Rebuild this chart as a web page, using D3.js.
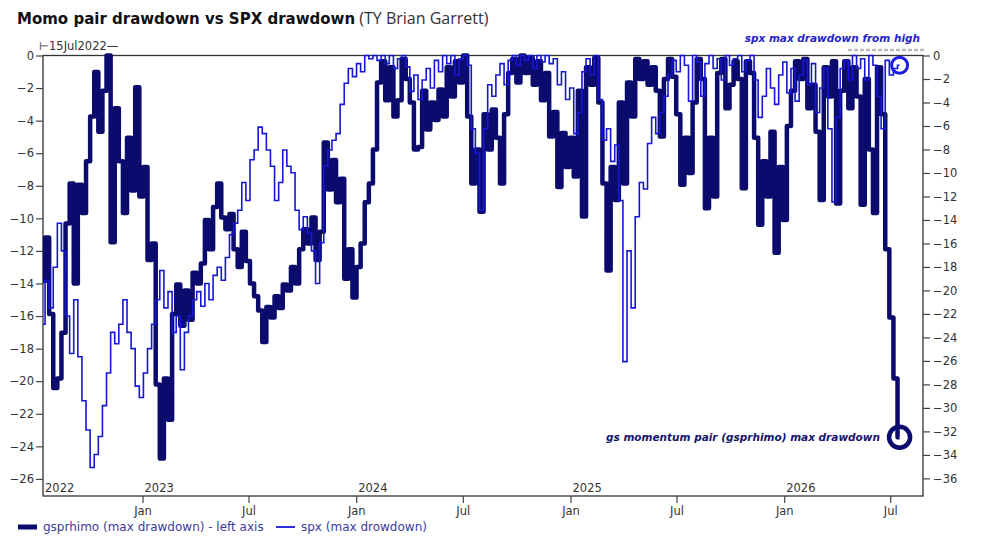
<!DOCTYPE html>
<html>
<head>
<meta charset="utf-8">
<script src="https://d3js.org/d3.v7.min.js"></script>
<style>
  body { margin: 0; background: #fff; }
  svg { display: block; }
</style>
</head>
<body>
<svg width="983" height="547"></svg>
<script>
// weekly readings starting 15 Jul 2022
var startDate = '2022-07-15';

// gsprhimo max drawdown (%), drawn on the right-hand scale
var gsValues = [
  -19.2, -15.5, -22, -28.3, -27.5, -23.6, -14.3, -10.9, -19.4, -11,
  -13.4, -9, -5.2, -1.4, -6.5, -3, 0, -15.9, -4.5, -9,
  -13.4, -7, -11.5, -2.7, -12, -9.5, -17.4, -16, -28, -34.3,
  -27.5, -31, -22, -19.5, -23, -20, -22.5, -18.5, -19.4, -17.7,
  -14, -16.5, -12.9, -10.9, -13.8, -14.8, -13.5, -16.5, -18, -15,
  -17.5, -19.4, -20.5, -21.7, -24.4, -21.4, -22.3, -20.5, -21.5, -19.5,
  -20, -18, -19.4, -16.5, -14.8, -16, -13.8, -17.4, -15, -7.4,
  -11.4, -8.9, -12.5, -10.5, -19, -16.5, -20.6, -18, -16, -12.5,
  -10.9, -8, -2.3, -0.5, -3.8, -1, -5.2, -3.8, -0.3, -2,
  -4, -8, -7.8, -3, -6.3, -4, -5.5, -2.9, -5.2, -1,
  -3.5, -0.5, -2.3, 0, -5.2, -10.9, -8, -13.3, -5, -8,
  -4.6, -7, -10.9, -5, -1.5, -0.3, -2.3, 0, -1.5, -0.2,
  -2.5, -0.5, -3.8, -1.5, -6.9, -4.8, -11.2, -6.6, -9.5, -7,
  -10.3, -3, -13.7, -1, -2.5, -0.2, -4, -10.9, -18.3, -9.5,
  -12.3, -4, -10.9, -2.3, -5.2, -0.3, -2, -0.5, -2.5, -1,
  -3, -6.9, -2, -0.3, -1.8, -5, -11, -7, -10, -4,
  -0.3, -2, -13, -7, -12, -1.5, -0.3, -4.5, -2.5, -0.5,
  -2, -11.3, -0.5, -1.5, -7, -14.4, -9, -12, -6.5, -16.8,
  -9.5, -14, -6, -3, -0.5, -2, -0.3, -4.5, -2.5, -6.5,
  -12.3, -1, -3.5, -0.5, -12.6, -3, -0.5, -4.5, -1, -3.5,
  -12.7, -2, -8, -13.4, -1, -5, -16.5, -22.3, -27.5, -32.5
];

// spx max drawdown (%), drawn on the left-hand scale
var spxValues = [
  -16.5, -13.8, -15.5, -13, -10.3, -12, -16, -18.3, -15, -18.5,
  -21.2, -23, -25.3, -24.5, -23.4, -21.5, -19.5, -17, -17.7, -16.5,
  -15, -17, -18, -20.3, -21, -19.5, -18, -16.5, -15, -13.2,
  -15.5, -14.5, -17, -16, -19.3, -17, -16, -15, -14.5, -15.4,
  -14, -15, -13.5, -13, -13.8, -12.4, -11, -10.3, -9.5, -7.8,
  -8.9, -6.4, -5.8, -4.4, -4.8, -5.8, -6.8, -8.9, -7.8, -5.8,
  -6.8, -7.2, -9.5, -10.7, -9.9, -10.9, -12, -14, -11.5, -6.8,
  -5.8, -5.2, -4.8, -3, -1.7, -0.8, -1.3, -0.5, -1, 0,
  -0.2, 0, -0.3, 0, -0.5, 0, -0.8, -0.2, 0, -0.7,
  -2.2, -1.2, -2.7, -1.5, -0.8, -2, -0.3, -1, 0, -0.5,
  0, -1.2, -0.2, 0, -0.6, -4.5, -6, -9.5, -4.5, -1.8,
  -2.5, -1.2, -0.5, -1.8, -0.3, 0, -0.6, 0, -0.3, 0,
  -0.8, 0, -0.4, 0, -0.5, -0.2, -1.8, -1, -2.7, -2,
  -4.8, -3.5, -1, -0.2, -1.2, 0, -2.7, -5.2, -4.5, -6.5,
  -5.5, -8.9, -18.8, -12, -15.5, -9.9, -7.8, -8.2, -5.4, -3.8,
  -4.8, -3.5, -2.5, -1.2, -0.3, -1, 0, -0.6, -2.8, 0,
  -0.4, -2.5, -0.5, 0, -0.8, -0.2, -1.5, 0, -0.6, -0.2,
  0, -1, -0.3, 0, -1.5, -3.8, -2.5, -0.8, -2, -3,
  -1.2, -0.4, -2.3, -0.8, -2.8, -1.2, -0.3, -1.8, -0.5, -3.5,
  -2, -0.8, -4.5, -9, -3.8, -0.8, -0.3, -1.5, 0, -0.8,
  -0.2, -1.5, 0, -0.6, -2.5, -4.5, -0.3, -1.2, -0.8, -0.6
];

var leftTicks = [0, -2, -4, -6, -8, -10, -12, -14, -16, -18, -20, -22, -24, -26];
var rightTicks = [0, -2, -4, -6, -8, -10, -12, -14, -16, -18, -20, -22, -24, -26, -28, -30, -32, -34, -36];
var monthTicks = ['2023-01-01', '2023-07-01', '2024-01-01', '2024-07-01', '2025-01-01', '2025-07-01', '2026-01-01', '2026-07-01'];
var yearTicks = ['2022-07-15', '2023-01-01', '2024-01-01', '2025-01-01', '2026-01-01'];

var navy = '#0b0b6e';
var blue = '#1616d8';
var axisFont = '"DejaVu Sans", Verdana, sans-serif';

var svg = d3.select('svg');
var parseDate = d3.timeParse('%Y-%m-%d');
var start = parseDate(startDate);

var dates = gsValues.map(function (d, i) { return d3.timeDay.offset(start, i * 7); });

var plot = {left: 43, right: 923, top: 55.5, bottom: 496};

var x = d3.scaleTime()
  .domain([parseDate('2022-07-15'), parseDate('2026-08-26')])
  .range([plot.left, plot.right]);
var yLeft = d3.scaleLinear().domain([-27.05, 0]).range([plot.bottom, plot.top]);
var yRight = d3.scaleLinear().domain([-37.5, 0]).range([plot.bottom, plot.top]);

// title
var title = svg.append('text').attr('x', 17).attr('y', 24);
title.append('tspan')
  .attr('font-family', axisFont).attr('font-weight', 'bold').attr('font-size', 15)
  .attr('fill', '#111')
  .text('Momo pair drawdown vs SPX drawdown');
title.append('tspan')
  .attr('font-family', '"Open Sans", sans-serif').attr('font-size', 16)
  .attr('fill', '#333')
  .text(' (TY Brian Garrett)');

// frame
svg.append('rect')
  .attr('x', plot.left).attr('y', plot.top)
  .attr('width', plot.right - plot.left).attr('height', plot.bottom - plot.top)
  .attr('fill', 'none').attr('stroke', '#333').attr('stroke-width', 1.3);

var styleAxis = function (g) {
  g.select('.domain').remove();
  g.selectAll('line').attr('stroke', '#444').attr('stroke-width', 1.2);
  g.selectAll('text').attr('fill', '#333').attr('font-family', axisFont).attr('font-size', 11.5);
};

svg.append('g').attr('transform', 'translate(' + plot.left + ',0)')
  .call(d3.axisLeft(yLeft).tickValues(leftTicks).tickSize(7).tickPadding(2))
  .call(styleAxis);

svg.append('g').attr('transform', 'translate(' + plot.right + ',0)')
  .call(d3.axisRight(yRight).tickValues(rightTicks).tickSize(7).tickPadding(3))
  .call(styleAxis);

svg.append('g').attr('transform', 'translate(0,' + plot.bottom + ')')
  .call(d3.axisBottom(x).tickValues(monthTicks.map(parseDate)).tickSize(7).tickPadding(4)
    .tickFormat(d3.timeFormat('%b')))
  .call(styleAxis);

// year labels sit inside the plot, just above the axis
svg.selectAll('text.year').data(yearTicks).enter().append('text')
  .attr('class', 'year')
  .attr('x', function (d) { return x(parseDate(d)) + 2; })
  .attr('y', 492)
  .attr('font-family', axisFont).attr('font-size', 11.5).attr('fill', '#333')
  .text(function (d) { return d.slice(0, 4); });

// date range marker on top
svg.append('text')
  .attr('x', 39).attr('y', 50)
  .attr('font-family', axisFont).attr('font-size', 11.5).attr('fill', '#333')
  .text('\u22a215Jul2022\u2014');
svg.append('line')
  .attr('x1', 848).attr('x2', 925).attr('y1', 50).attr('y2', 50)
  .attr('stroke', '#bbb').attr('stroke-width', 2.5).attr('stroke-dasharray', '4,2');

// series (daily-looking steps between weekly readings)
var gsLine = d3.line()
  .x(function (d, i) { return x(dates[i]); })
  .y(function (d) { return yRight(d); })
  .curve(d3.curveStep);

var spxLine = d3.line()
  .x(function (d, i) { return x(dates[i]); })
  .y(function (d) { return yLeft(d); })
  .curve(d3.curveStep);

svg.append('path').datum(gsValues)
  .attr('d', gsLine)
  .attr('fill', 'none').attr('stroke', navy).attr('stroke-width', 4.5)
  .attr('stroke-linejoin', 'round');

svg.append('path').datum(spxValues)
  .attr('d', spxLine)
  .attr('fill', 'none').attr('stroke', blue).attr('stroke-width', 1.6);

// end markers and notes
var last = dates.length - 1;

svg.append('circle')
  .attr('cx', x(dates[last])).attr('cy', yLeft(spxValues[last]))
  .attr('r', 8).attr('fill', 'none').attr('stroke', '#1c1ce6').attr('stroke-width', 3);

svg.append('circle')
  .attr('cx', x(dates[last])).attr('cy', yRight(gsValues[last]))
  .attr('r', 10.5).attr('fill', 'none').attr('stroke', navy).attr('stroke-width', 4.5);

svg.append('text')
  .attr('x', 920).attr('y', 42).attr('text-anchor', 'end')
  .attr('font-family', axisFont).attr('font-weight', 'bold').attr('font-style', 'italic')
  .attr('font-size', 10.5).attr('fill', '#2424c8')
  .text('spx max drawdown from high');

svg.append('text')
  .attr('x', 880).attr('y', 441).attr('text-anchor', 'end')
  .attr('font-family', axisFont).attr('font-weight', 'bold').attr('font-style', 'italic')
  .attr('font-size', 10.5).attr('fill', '#14146e')
  .text('gs momentum pair (gsprhimo) max drawdown');

// legend
var legend = [
  {label: 'gsprhimo (max drawdown) - left axis', color: navy, width: 5, x: 18},
  {label: 'spx (max drowdown)', color: blue, width: 1.8, x: 276}
];

legend.forEach(function (d) {
  svg.append('line')
    .attr('x1', d.x).attr('x2', d.x + 19).attr('y1', 527).attr('y2', 527)
    .attr('stroke', d.color).attr('stroke-width', d.width);
  svg.append('text')
    .attr('x', d.x + 25).attr('y', 531)
    .attr('font-family', axisFont).attr('font-size', 12).attr('fill', '#3c3c9c')
    .text(d.label);
});
</script>
</body>
</html>
